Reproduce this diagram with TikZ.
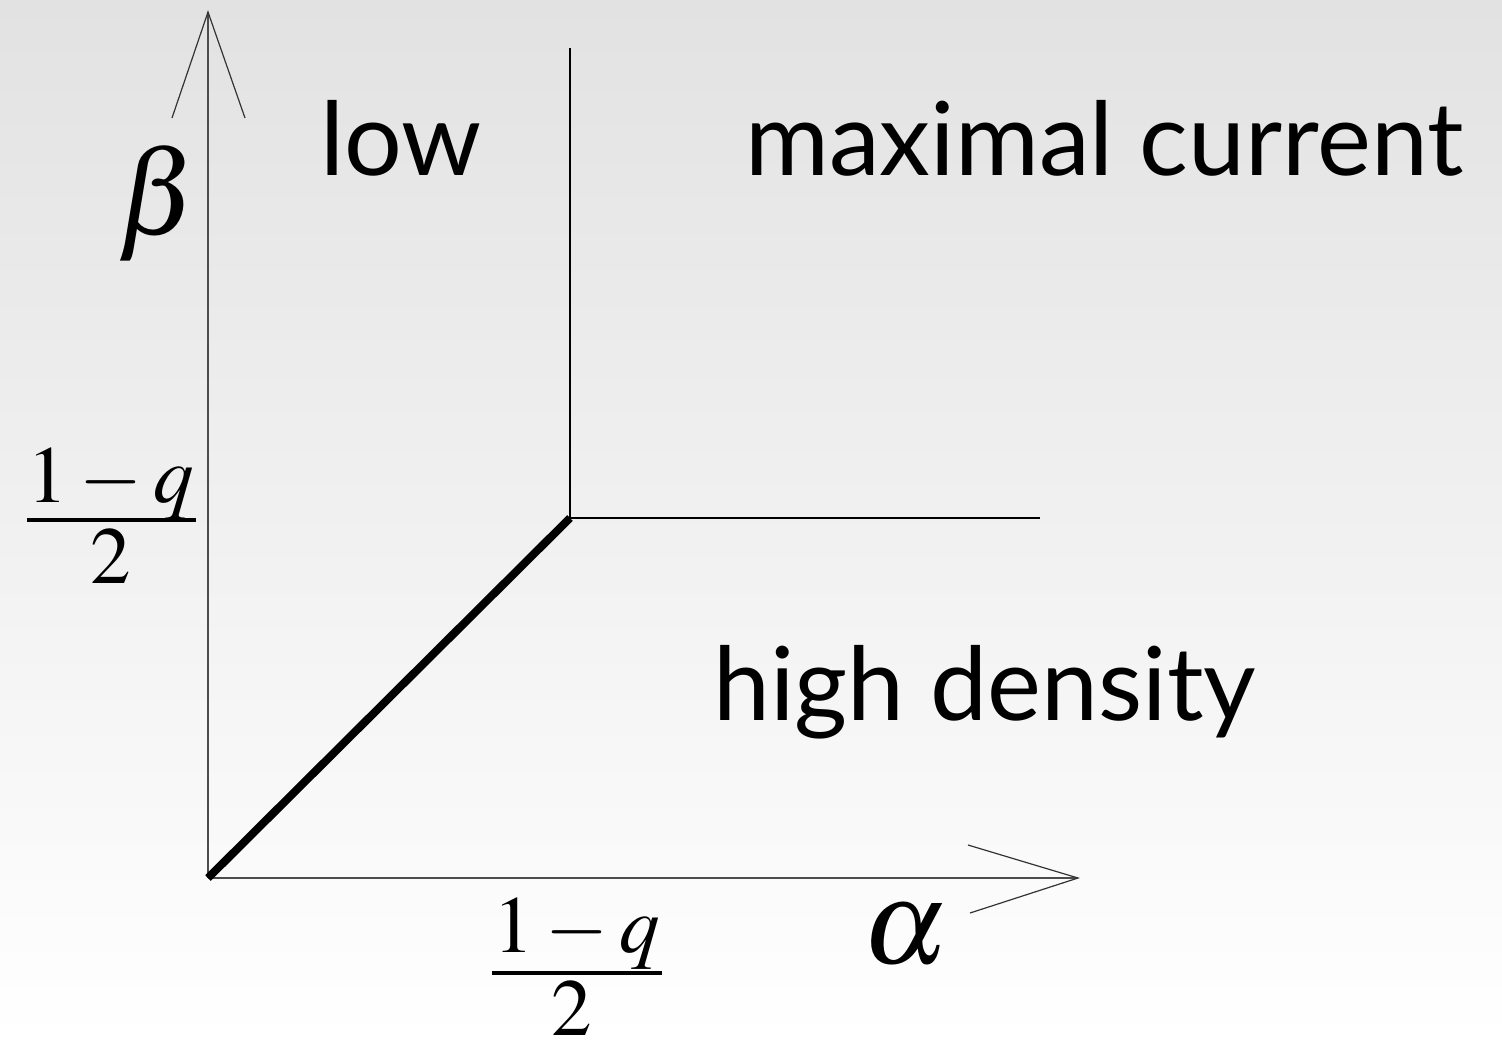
\documentclass[tikz,border=0pt]{standalone}
\usepackage{mathptmx}
\usepackage{fontspec}
\setmainfont{Lato}
\begin{document}
\begin{tikzpicture}[x=1pt,y=-1pt,
  axis/.style={draw=black!70,line width=1.3pt},
  tipline/.style={draw=black!80,line width=1.2pt},
  border/.style={draw=black,line width=1.5pt},
  thickline/.style={draw=black,line width=8pt},
  fracbar/.style={draw=black,line width=4pt},
  region/.style={font=\fontsize{102}{102}\selectfont,anchor=base west,inner sep=0pt},
  greek/.style={font=\fontsize{120}{120}\selectfont,inner sep=0pt},
  frac/.style={font=\fontsize{81}{81}\selectfont,inner sep=0pt,anchor=base}]
\useasboundingbox (0,0) rectangle (1502,1042);
\shade[top color={rgb,255:red,226;green,226;blue,226},bottom color=white] (0,0) rectangle (1502,1042);
% coordinates
\coordinate (O) at (208,878);
\coordinate (ytip) at (208,12);
\coordinate (xtip) at (1078,878);
\coordinate (C) at (570,518);
\coordinate (Ctop) at (570,48);
\coordinate (Cright) at (1040,518);
\coordinate (yl) at (172,118);
\coordinate (yr) at (245,118);
\coordinate (xu) at (968,845);
\coordinate (xd) at (970,913);
% axes
\draw[axis] (O) -- (ytip);
\draw[axis] (O) -- (xtip);
\draw[tipline] (yl) -- (ytip) -- (yr);
\draw[tipline] (xu) -- (xtip) -- (xd);
% phase boundaries
\draw[border] (Ctop) -- (C) -- (Cright);
\draw[thickline,line cap=butt] (O) -- (C);
% labels
\node[region] (low) at (320,175) {low};
\node[region] (max) at (745,175) {maximal current};
\node[region] (high) at (713,720) {high density};
\node[greek] (beta) at (158,203) {$\beta$};
\node[greek] (alpha) at (905,935) {$\alpha$};
% beta-axis fraction
\node[frac] (fyn) at (111,502) {$1-q$};
\coordinate (fyl) at (27,520);
\coordinate (fyr) at (196,520);
\draw[fracbar] (fyl) -- (fyr);
\node[frac] (fyd) at (111,583) {$2$};
% alpha-axis fraction
\node[frac] (fxn) at (577,952) {$1-q$};
\coordinate (fxl) at (492,973);
\coordinate (fxr) at (662,973);
\draw[fracbar] (fxl) -- (fxr);
\node[frac] (fxd) at (572,1035) {$2$};
\end{tikzpicture}
\end{document}
